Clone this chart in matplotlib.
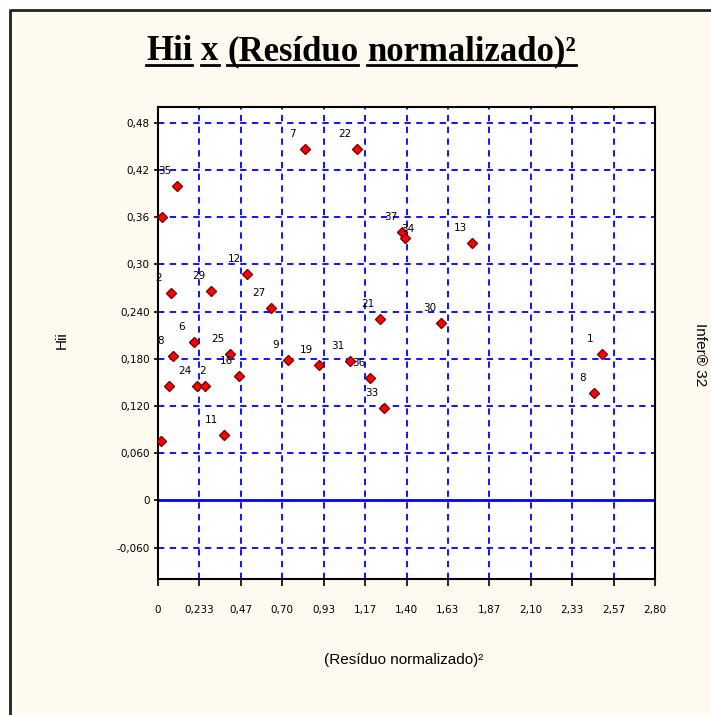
import matplotlib
matplotlib.use("Agg")
import matplotlib.pyplot as plt
from matplotlib.patches import Rectangle
from matplotlib.lines import Line2D

# point ids, (residuo normalizado)^2 and Hii
labels = ["7", "22", "35", "", "2", "29", "12", "27", "6", "8", "25", "16",
          "9", "19", "31", "36", "33", "", "24", "2", "", "11", "21", "30",
          "13", "37", "34", "1", "8"]
res2 = [0.826, 1.119, 0.107, 0.022, 0.073, 0.298, 0.500, 0.635, 0.202, 0.084,
        0.405, 0.455, 0.731, 0.905, 1.079, 1.197, 1.271, 0.062, 0.219, 0.264,
        0.017, 0.371, 1.248, 1.597, 1.771, 1.377, 1.389, 2.502, 2.457]
hii = [0.446, 0.446, 0.400, 0.360, 0.264, 0.266, 0.288, 0.245, 0.201, 0.183,
       0.186, 0.158, 0.178, 0.172, 0.177, 0.155, 0.117, 0.145, 0.145, 0.145,
       0.075, 0.083, 0.231, 0.226, 0.327, 0.341, 0.334, 0.186, 0.137]

xticks = [0, 0.2333, 0.4667, 0.70, 0.9333, 1.1667, 1.40, 1.6333, 1.8667,
          2.10, 2.3333, 2.5667, 2.80]
xticklabels = ["0", "0,233", "0,47", "0,70", "0,93", "1,17", "1,40", "1,63",
               "1,87", "2,10", "2,33", "2,57", "2,80"]
yticks = [-0.06, 0, 0.06, 0.12, 0.18, 0.24, 0.30, 0.36, 0.42, 0.48]
yticklabels = ["-0,060", "0", "0,060", "0,120", "0,180", "0,240", "0,30",
               "0,36", "0,42", "0,48"]

title = "Hii x (Resíduo normalizado)²"
cream = "#FFFAEF"
W, H = 711, 715

fig = plt.figure(figsize=(W / 100, H / 100), dpi=100, facecolor="white")

# cream panel with dark left/top edge
fig.patches.append(Rectangle((11 / W, 0), 1 - 11 / W, 1 - 11 / H,
                             transform=fig.transFigure, facecolor=cream,
                             edgecolor="none", zorder=-2))
fig.lines.append(Line2D([10 / W, 10 / W, 1], [0, 1 - 10 / H, 1 - 10 / H],
                        transform=fig.transFigure, color="#202020", lw=2))

ax = fig.add_axes([158 / W, 1 - 579 / H, (655 - 158) / W, (579 - 107) / H])
ax.set_facecolor("white")
ax.set_xlim(0, 2.8)
ax.set_ylim(-0.1, 0.5)

ax.set_xticks(xticks)
ax.set_xticklabels(xticklabels)
ax.set_yticks(yticks)
ax.set_yticklabels(yticklabels)
ax.tick_params(axis="x", direction="out", length=5, width=1.2, pad=14,
               labelsize=7.5)
ax.tick_params(axis="y", direction="out", length=3, width=1.2, pad=3,
               labelsize=7.5)
for s in ax.spines.values():
    s.set_linewidth(1.5)
    s.set_color("black")

# blue dashed grid, solid zero line
dash = (3.5, 3)
for xv in xticks[1:-1]:
    ax.axvline(xv, color="#0000FF", lw=1.3, dashes=dash, zorder=1)
for yv in yticks:
    if yv == 0:
        ax.axhline(yv, color="#0000FF", lw=2, zorder=1)
    else:
        ax.axhline(yv, color="#0000FF", lw=1.3, dashes=dash, zorder=1)

ax.plot(res2, hii, linestyle="none", marker="D", markersize=5.5,
        markerfacecolor="#FF0000", markeredgecolor="#7A0000",
        markeredgewidth=1.0, zorder=3)

# small nudges where labels would sit on top of each other
nudge = {19: (-2.0, 10.8), 26: (2.0, 6.5)}
for i, (lab, xv, yv) in enumerate(zip(labels, res2, hii)):
    if lab:
        off = nudge.get(i, (-8.6, 10.8))
        ax.annotate(lab, (xv, yv), xytext=off,
                    textcoords="offset points", ha="center", va="center",
                    fontsize=7.5, color="black", zorder=4,
                    annotation_clip=True)

fig.text(62 / W, 1 - 340 / H, "Hii", rotation=90, ha="center", va="center",
         fontsize=11, family="Liberation Sans")
fig.text(700 / W, 1 - 355 / H, "Infer® 32", rotation=-90, ha="center",
         va="center", fontsize=11, family="Liberation Sans")
fig.text(404 / W, 1 - 660 / H, "(Resíduo normalizado)²", ha="center",
         va="center", fontsize=11, family="Liberation Sans")

# title, word by word so each word gets its own underline
fig.canvas.draw()
rend = fig.canvas.get_renderer()
words = title.split(" ")
tprops = dict(fontsize=25, family="Liberation Serif", fontweight="bold",
              va="baseline", ha="left")
tmp = [fig.text(0, 0, w, **tprops) for w in words]
t_sp = fig.text(0, 0, "x x", **tprops)
t_xx = fig.text(0, 0, "xx", **tprops)
widths = [t.get_window_extent(rend).width for t in tmp]
gap = t_sp.get_window_extent(rend).width - t_xx.get_window_extent(rend).width
t_sp.remove()
t_xx.remove()
total = sum(widths) + gap * (len(words) - 1)
x0 = 361 - total / 2
base = 60
for t, w in zip(tmp, widths):
    t.set_position((x0 / W, 1 - base / H))
    fig.lines.append(Line2D([x0 / W, (x0 + w) / W],
                            [1 - (base + 5) / H, 1 - (base + 5) / H],
                            transform=fig.transFigure, color="black", lw=2))
    x0 += w + gap

fig.savefig("out.png", dpi=100, facecolor=fig.get_facecolor())
